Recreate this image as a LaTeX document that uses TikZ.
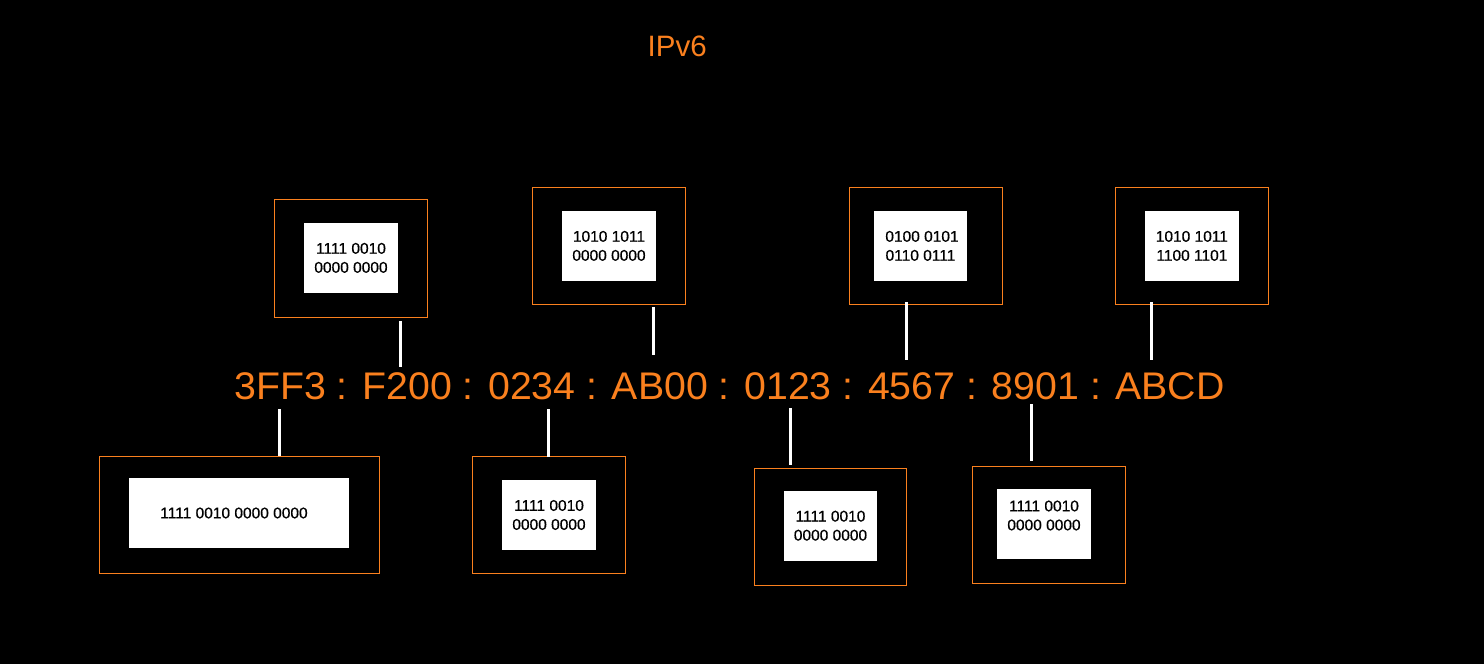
\documentclass[tikz,border=0pt]{standalone}
\usepackage{fontspec}
\setmainfont{Liberation Sans}
\newfontfamily\addrfont{Liberation Sans}[FakeStretch=1.02]
\newfontfamily\boxfont{Liberation Sans}[FakeBold=0.6]
\definecolor{ipor}{RGB}{250,128,30}
\begin{document}
\begin{tikzpicture}[x=1pt,y=-1pt,
  outerbox/.style={draw=ipor,line width=1pt,inner sep=0pt,minimum width=153.4pt,minimum height=117pt},
  innerbox/.style={fill=white,inner sep=0pt,minimum width=94pt,minimum height=70pt,align=center,
    text=black,font=\boxfont\fontsize{15.5}{19}\selectfont},
  conn/.style={draw=white,line width=2.6pt},
  addr/.style={text=ipor,inner sep=0pt,font=\addrfont\fontsize{38.5}{46}\selectfont},
  ttl/.style={text=ipor,inner sep=0pt,font=\fontsize{29.5}{34}\selectfont}]
\fill[black] (0,0) rectangle (1484,664);
\useasboundingbox (0,0) rectangle (1484,664);

\node[ttl,anchor=base] (title) at (677.2,56) {IPv6};
\node[addr,anchor=base] (address) at (729.5,399) {3FF3 : F200 : 0234 : AB00 : 0123 : 4567 : 8901 : ABCD};

% top row
\node[outerbox,minimum height=118pt] (t1o) at (351,258.3) {};
\node[innerbox] (t1i) at (351,257.9) {1111 0010\\0000 0000};
\node[outerbox] (t2o) at (609,245.8) {};
\node[innerbox] (t2i) at (609,245.9) {1010 1011\\0000 0000};
\node[outerbox] (t3o) at (926,245.8) {};
\node[innerbox,minimum width=93pt] (t3i) at (920.5,245.9) {\hspace*{3pt}0100 0101\\0110 0111};
\node[outerbox] (t4o) at (1192,245.8) {};
\node[innerbox] (t4i) at (1191.9,245.9) {1010 1011\\1100 1101};

% bottom row
\node[outerbox,minimum width=280.4pt] (b1o) at (239.5,514.8) {};
\node[innerbox,minimum width=220pt] (b1i) at (239,513) {\hspace*{-10pt}1111 0010 0000 0000};
\node[outerbox,minimum height=116.6pt] (b2o) at (549,515) {};
\node[innerbox] (b2i) at (549,515) {1111 0010\\0000 0000};
\node[outerbox,minimum width=152.4pt,minimum height=116.6pt] (b3o) at (830.5,527) {};
\node[innerbox,minimum width=93pt] (b3i) at (830.5,525.7) {1111 0010\\0000 0000};
\node[outerbox,minimum height=116.6pt] (b4o) at (1049,525) {};
\node[innerbox,minimum height=69.4pt] (b4i) at (1044,524) {};
\node[innerbox,fill=none,minimum width=0pt,minimum height=0pt] (b4t) at (1044,515.5) {1111 0010\\0000 0000};

% connector end points
\coordinate (c1a) at (400.3,321);  \coordinate (c1b) at (400.3,367);
\coordinate (c2a) at (653.3,307);  \coordinate (c2b) at (653.3,354.7);
\coordinate (c3a) at (906.7,302);  \coordinate (c3b) at (906.7,360);
\coordinate (c4a) at (1151.3,302); \coordinate (c4b) at (1151.3,360);
\coordinate (d1a) at (279.3,409);  \coordinate (d1b) at (279.3,456);
\coordinate (d2a) at (548.3,409);  \coordinate (d2b) at (548.3,456.7);
\coordinate (d3a) at (790.7,408);  \coordinate (d3b) at (790.7,464.7);
\coordinate (d4a) at (1031.3,404); \coordinate (d4b) at (1031.3,460.7);

\draw[conn] (c1a) -- (c1b);
\draw[conn] (c2a) -- (c2b);
\draw[conn] (c3a) -- (c3b);
\draw[conn] (c4a) -- (c4b);
\draw[conn] (d1a) -- (d1b);
\draw[conn] (d2a) -- (d2b);
\draw[conn] (d3a) -- (d3b);
\draw[conn] (d4a) -- (d4b);
\end{tikzpicture}
\end{document}
